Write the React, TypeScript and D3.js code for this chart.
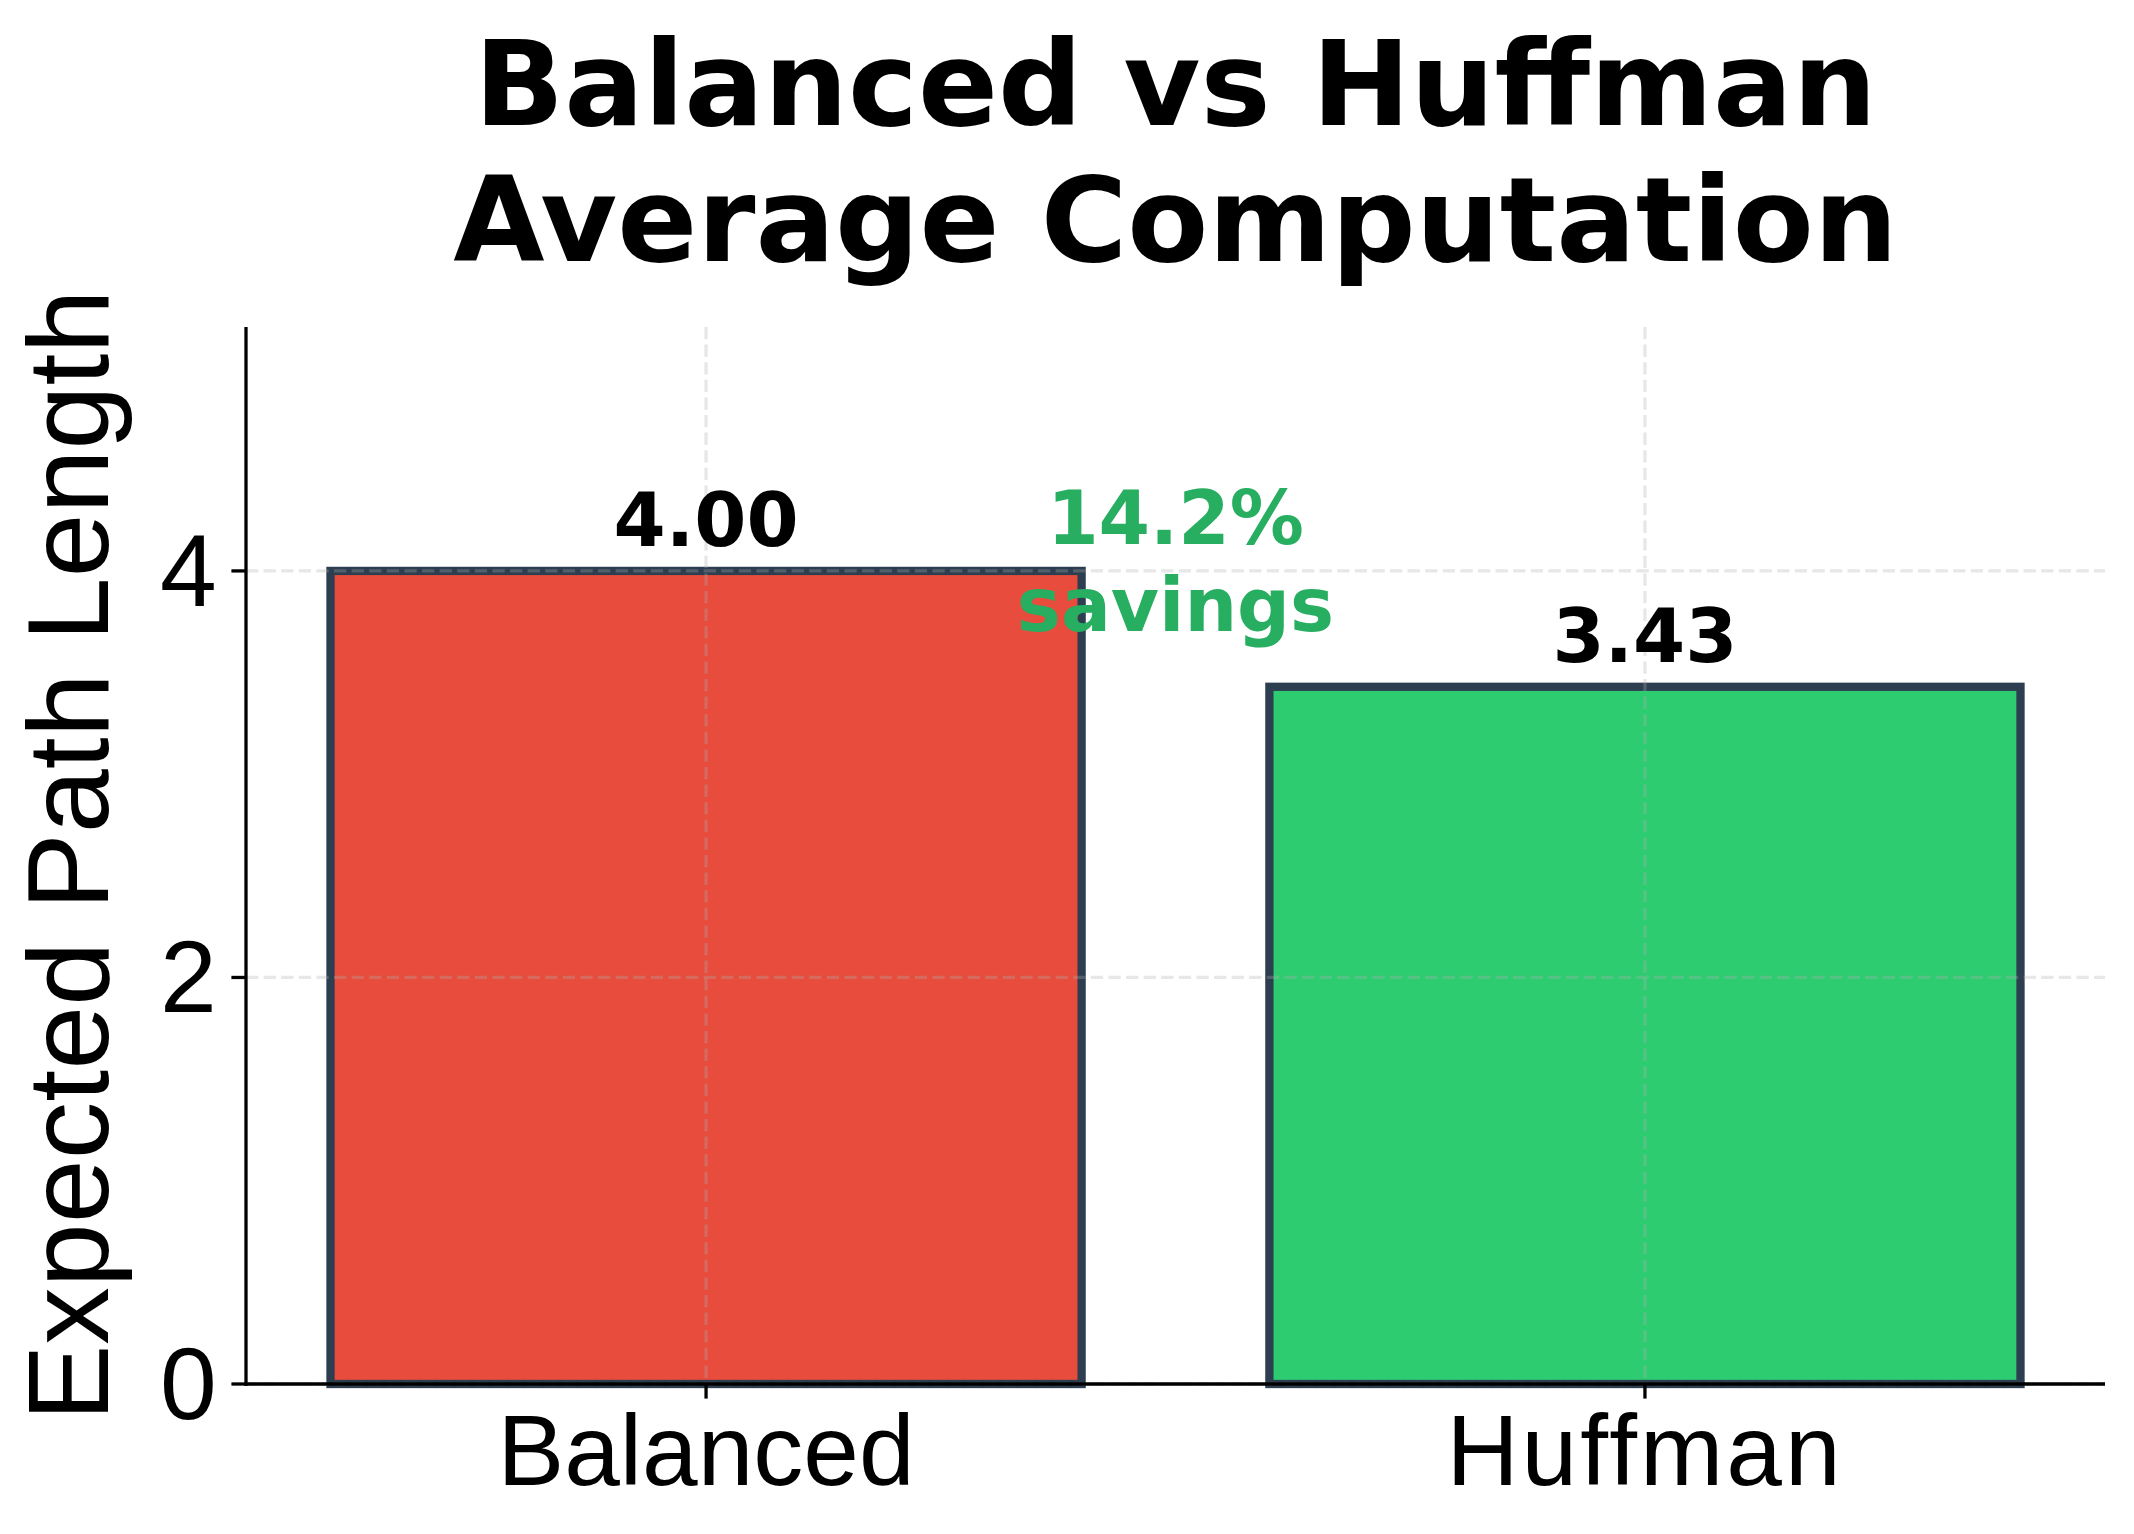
import React from "react";
import * as d3 from "d3";

const categories = ["Balanced", "Huffman"];
const values = [4.0, 3.43];
const barColors = ["#e74c3c", "#2ecc71"];
const yTicks = [0, 2, 4];
const savingsLines = ["14.2%", "savings"];
const titleLines = ["Balanced vs Huffman", "Average Computation"];
const yLabel = "Expected Path Length";

const W = 2134;
const H = 1534;
const left = 246;
const right = 2105;
const top = 327;
const bottom = 1384;

const BOLD = "'DejaVu Sans', sans-serif";
const REG = "'Liberation Sans', Arial, sans-serif";

export default function App() {
  const x = d3.scaleLinear().domain([-0.49, 1.49]).range([left, right]);
  const y = d3.scaleLinear().domain([0, 5.2]).range([bottom, top]);
  const barW = x(0.8) - x(0);
  const tickLen = 14.6;
  const pad = 14.6;
  const gridStyle = {
    stroke: "#b0b0b0",
    strokeOpacity: 0.3,
    strokeWidth: 3.3,
    strokeDasharray: "12.3 5.3",
  };

  return (
    <svg
      width={W}
      height={H}
      viewBox={`0 0 ${W} ${H}`}
      style={{ position: "absolute", left: 0, top: 0, background: "#fff" }}
    >
      <rect x={0} y={0} width={W} height={H} fill="#fff" />
      {/* bars */}
      {categories.map((c, i) => (
        <rect
          key={c}
          x={x(i) - barW / 2}
          y={y(values[i])}
          width={barW}
          height={y(0) - y(values[i])}
          fill={barColors[i]}
          stroke="#2c3e50"
          strokeWidth={8.3}
        />
      ))}
      {/* grid */}
      {yTicks.map((t) => (
        <line key={"gy" + t} x1={left} x2={right} y1={y(t)} y2={y(t)} {...gridStyle} />
      ))}
      {categories.map((c, i) => (
        <line key={"gx" + c} x1={x(i)} x2={x(i)} y1={top} y2={bottom} {...gridStyle} />
      ))}
      {/* spines */}
      <line x1={left} x2={left} y1={top} y2={bottom + 1.65} stroke="#000" strokeWidth={3.3} />
      <line x1={left - 1.65} x2={right} y1={bottom} y2={bottom} stroke="#000" strokeWidth={3.3} />
      {/* y ticks */}
      {yTicks.map((t) => (
        <g key={"yt" + t}>
          <line x1={left - tickLen} x2={left} y1={y(t)} y2={y(t)} stroke="#000" strokeWidth={3.3} />
          <text
            x={left - tickLen - pad}
            y={y(t)}
            textAnchor="end"
            dominantBaseline="central"
            fontFamily={REG}
            fontSize={102}
            fill="#000"
          >
            {d3.format("d")(t)}
          </text>
        </g>
      ))}
      {/* x ticks */}
      {categories.map((c, i) => (
        <g key={"xt" + c}>
          <line x1={x(i)} x2={x(i)} y1={bottom} y2={bottom + tickLen} stroke="#000" strokeWidth={3.3} />
          <text
            x={x(i)}
            y={bottom + tickLen + pad + 72}
            textAnchor="middle"
            fontFamily={REG}
            fontSize={100}
            letterSpacing={i === 1 ? 3 : 0}
            fill="#000"
          >
            {c}
          </text>
        </g>
      ))}
      {/* value labels */}
      {categories.map((c, i) => (
        <text
          key={"vl" + c}
          x={x(i)}
          y={y(values[i]) - 25}
          textAnchor="middle"
          fontFamily={BOLD}
          fontWeight="bold"
          fontSize={75}
          fill="#000"
        >
          {values[i].toFixed(2)}
        </text>
      ))}
      {/* savings annotation */}
      {savingsLines.map((s, k) => (
        <text
          key={"sv" + k}
          x={x(0.5)}
          y={y(values[0]) - 27 + k * 87}
          textAnchor="middle"
          fontFamily={BOLD}
          fontWeight="bold"
          fontSize={74}
          fill="#27ae60"
        >
          {s}
        </text>
      ))}
      {/* y label */}
      <text
        transform={`translate(${108}, ${(top + bottom) / 2}) rotate(-90)`}
        textAnchor="middle"
        fontFamily={REG}
        fontSize={115}
        fill="#000"
      >
        {yLabel}
      </text>
      {/* title */}
      {titleLines.map((t, k) => (
        <text
          key={"tt" + k}
          x={(left + right) / 2}
          y={125 + k * 136}
          textAnchor="middle"
          fontFamily={BOLD}
          fontWeight="bold"
          fontSize={118}
          fill="#000"
        >
          {t}
        </text>
      ))}
    </svg>
  );
}
